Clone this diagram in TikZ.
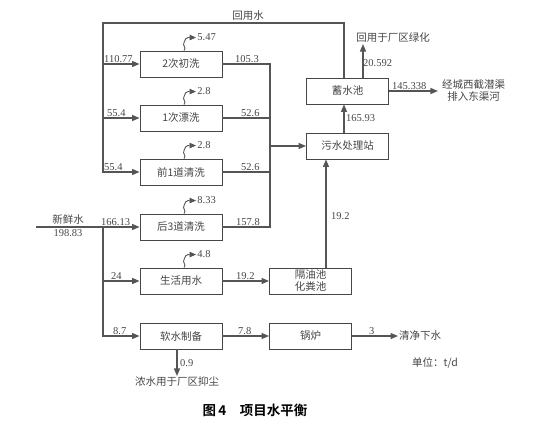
\documentclass[tikz,border=0pt]{standalone}
\usepackage{fontspec}
\setmainfont{Liberation Serif}
\newfontfamily\cjk{Noto Sans CJK SC}[BoldFont=Noto Sans CJK SC Bold]
\usepackage{tikz}
\usetikzlibrary{arrows.meta,positioning,calc}
\usepackage{xcolor}
\definecolor{inkgray}{RGB}{70,70,70}
\definecolor{wire}{RGB}{85,85,85}
\tikzset{
  % ---- units ------------------------------------------------------------
  unit/.style={draw=inkgray, line width=0.9pt, fill=white, text=inkgray,
    font=\cjk\fontsize{10.5}{12}\selectfont, align=center,
    minimum width=82pt, minimum height=26pt, inner sep=1pt},
  % ---- wires ------------------------------------------------------------
  ln/.style={draw=wire, line width=1.2pt},
  ar/.style={ln, -{Triangle[length=7.5pt,width=6pt]}},
  % ---- labels -----------------------------------------------------------
  num/.style={font=\fontsize{10.5}{12}\selectfont, text=inkgray, inner sep=1pt},
  lbl/.style={font=\cjk\fontsize{10.5}{12}\selectfont, text=inkgray,
              align=center, inner sep=1pt},
}

\begin{document}
\begin{tikzpicture}[x=1pt,y=-1pt]
\useasboundingbox (0,0) rectangle (553,427);

% ============================ process units ================================
\node[unit] (b1) at (181,64)  {2次初洗};
\node[unit] (b2) at (181,118) {1次漂洗};
\node[unit] (b3) at (181,172) {前1道清洗};
\node[unit] (b4) at (181,227) {后3道清洗};
\node[unit] (b5) at (181,281) {生活用水};
\node[unit] (b6) at (181,336) {软水制备};

\node[unit] (pool) at (347.5,91)  {蓄水池};
\node[unit] (sew)  at (347.5,146) {污水处理站};
\node[unit] (oil)  at (310.5,281) {隔油池\\化粪池};
\node[unit] (boil) at (310.5,336) {锅炉};

% ============================ helper points ================================
\coordinate (ltop) at (103,23);
\coordinate (rtop) at (344,23);
\coordinate (fin)  at (36,227);
\coordinate (col)  at (270,64);
\coordinate (up)   at (326,0);
\coordinate (gx)   at (363,0);

% ============================ end labels ===================================
\node[lbl] (reuse) at (248,16)  {回用水};
\node[lbl] (green) at (393,38)  {回用于厂区绿化};
\node[lbl, anchor=west] (out)   at (441,91)  {经城西截潜渠\\排入东渠河};
\node[lbl, anchor=west] (clean) at (398,336) {清净下水};
\node[lbl] (dust)  at (177,382) {浓水用于厂区抑尘};
\node[lbl] (unitl) at (435,363) {单位：t/d};
\node[lbl] (fresh) at (68,220)  {新鲜水};
\node[num] (freshv) at (68,233) {198.83};

% ============================ reuse loop ===================================
\draw[ar] (rtop |- pool.north) -- (rtop) -- (ltop) |- (b3.west);
\foreach \n in {b1,b2} { \draw[ar] (ltop |- \n.west) -- (\n.west); }

% ============================ fresh water ==================================
\draw[ar] (fin) -- (b4.west);
\draw[ar] (ltop |- b4.west) |- (b6.west);
\draw[ar] (ltop |- b5.west) -- (b5.west);

% ============================ collector to treatment =======================
\draw[ln] (b1.east) -- (col) -- (col |- b4.east) -- (b4.east);
\foreach \n in {b2,b3} { \draw[ln] (\n.east) -- (col |- \n.east); }
\draw[ar] (col |- sew.west) -- (sew.west);
\draw[ar] (b5.east) -- (oil.west);
\draw[ar] (up |- oil.north) -- (up |- sew.south);
\draw[ar] (rtop |- sew.north) -- (rtop |- pool.south);
\draw[ar] (gx |- pool.north) -- (gx |- green.south);
\draw[ar] (pool.east) -- ++(49,0);
\draw[ar] (b6.east) -- (boil.west);
\draw[ar] (boil.east) -- (clean.west);
\draw[ar] (dust.north |- b6.south) -- (dust.north);

% ============================ losses (squiggles) ===========================
\foreach \n/\v in {b1/5.47, b2/2.8, b3/2.8, b4/8.33, b5/4.8} {
  \draw[ln, line width=0.9pt, -{Triangle[length=6.5pt,width=5.5pt]}]
    ($(\n.north)+(3,0)$) .. controls +(3,-3) and +(-2,3) .. ++(0,-8)
    .. controls +(1,-3) and +(-2,0) .. ++(4,-5) -- ++(8,0)
    node[num, anchor=west] {\v};
}

% ============================ flow values ==================================
\node[num, anchor=south west] at (103,64)  {110.77};
\node[num, anchor=south west] at (106,118) {55.4};
\node[num, anchor=south west] at (103,172) {55.4};
\node[num, anchor=south west] at (100,227) {166.13};
\node[num, anchor=south west] at (110,281) {24};
\node[num, anchor=south west] at (112,336) {8.7};
\node[num, anchor=south west] at (234,64)  {105.3};
\node[num, anchor=south west] at (240,118) {52.6};
\node[num, anchor=south west] at (240,172) {52.6};
\node[num, anchor=south west] at (235,227) {157.8};
\node[num, anchor=south west] at (235,281) {19.2};
\node[num, anchor=south west] at (237,336) {7.8};
\node[num, anchor=south west] at (368,336) {3};
\node[num, anchor=south west] at (391,91)  {145.338};
\node[num, anchor=west] at (345,118) {165.93};
\node[num, anchor=west] at (362,63)  {20.592};
\node[num, anchor=west] at (330,216) {19.2};
\node[num, anchor=west] at (179,363) {0.9};

% ============================ caption ======================================
\node[font=\cjk\bfseries\fontsize{13.5}{15}\selectfont, inner sep=0pt] (cap)
  at (255,410) {图\,4\quad 项目水平衡};

\end{tikzpicture}
\end{document}
